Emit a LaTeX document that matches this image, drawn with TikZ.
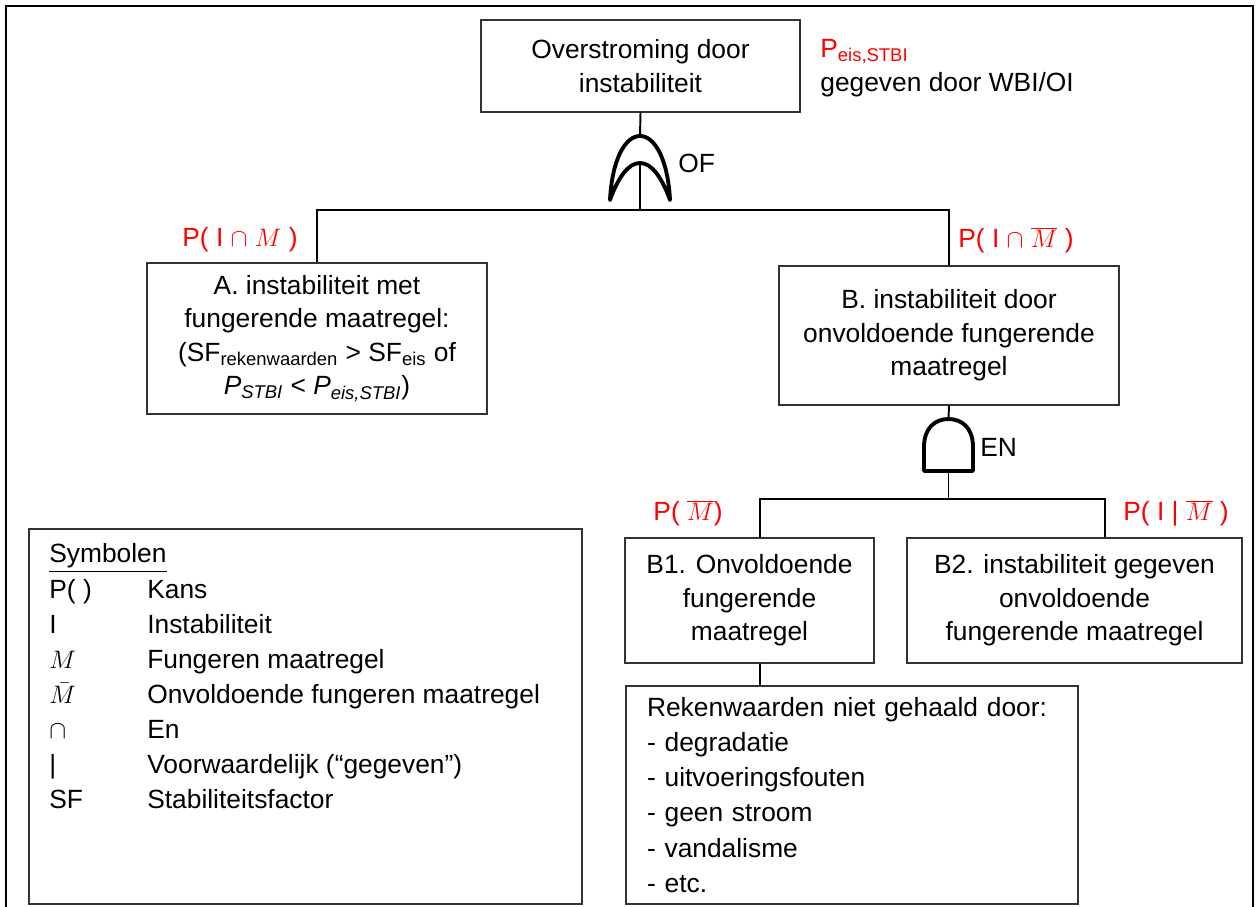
\documentclass[tikz,border=0pt]{standalone}
\usepackage{fontspec}
\setmainfont{Liberation Sans}
\tikzstyle{eventBox} = [shape=rectangle, draw=black!80, line width=0.8pt, text=black,
	align=center, fill=white, font=\fontsize{15}{19}\selectfont]
\tikzstyle{listBox} = [eventBox, align=left, font=\fontsize{15}{20}\selectfont]
\tikzstyle{plainText} = [text=black, inner sep=0pt, font=\fontsize{15}{19.5}\selectfont]
\tikzstyle{probLabel} = [plainText, text=red]
\tikzstyle{normalLine} = [line width=1.1pt, draw=black]
\tikzstyle{gateLine} = [line width=2.2pt, draw=black, line join=round]

\begin{document}
\begin{tikzpicture}[x=0.02cm, y=-0.02cm]
  \useasboundingbox (0,0) rectangle (1259,907);
  \draw [line width=1.6pt] (6,907) -- (6,6) -- (1253,6) -- (1253,907);

  \node (TOP) [eventBox, minimum width=6.38cm, minimum height=1.84cm] at (640.5,66) {Overstroming door\\instabiliteit};
  \node (PEIS) [plainText, anchor=west, align=left] at (820,68) {\textcolor{red}{P\textsubscript{eis,STBI}}\\gegeven door WBI/OI};
  \node (A) [eventBox, minimum width=6.8cm, minimum height=3.02cm] at (317,338.5) {A. instabiliteit met\\fungerende maatregel:\\(SF\textsubscript{rekenwaarden} > SF\textsubscript{eis} of\\\textit{P}\textsubscript{\textit{STBI}} < \textit{P}\textsubscript{\textit{eis,STBI}})};
  \node (B) [eventBox, minimum width=6.8cm, minimum height=2.78cm] at (949,335.5) {B. instabiliteit door\\onvoldoende fungerende\\maatregel};
  \node (B1) [eventBox, minimum width=4.98cm, minimum height=2.5cm] at (749.5,600.5) {B1. Onvoldoende\\fungerende\\maatregel};
  \node (B2) [eventBox, minimum width=6.7cm, minimum height=2.5cm] at (1074.5,600.5) {B2. instabiliteit gegeven\\onvoldoende\\fungerende maatregel};
  \node (REK) [listBox, minimum width=9.04cm, minimum height=4.36cm, text width=8.2cm] at (852,795) {Rekenwaarden niet gehaald door:\\- degradatie\\- uitvoeringsfouten\\- geen stroom\\- vandalisme\\- etc.};

  \node (pA) [probLabel] at (240,240) {P( I $\cap$ $M$ )};
  \node (pB) [probLabel, anchor=west] at (958,240) {P( I $\cap$ $\overline{M}$ )};
  \node (pB1) [probLabel] at (688,513) {P( $\overline{M}$)};
  \node (pB2) [probLabel] at (1176,513) {P( I | $\overline{M}$ )};

  % OF-poort
  \coordinate (OFtop) at (640,136);
  \coordinate (OFin) at (640,163);
  \coordinate (OFbase) at (640,210);
  \draw [gateLine] (610,200) .. controls (612,160) and (625,136) .. (OFtop) .. controls (655,136) and (668,160) .. (670,200)
    .. controls (662,178) and (652,163) .. (OFin) .. controls (628,163) and (618,178) .. (610,200) -- cycle;
  \node (OF) [plainText, anchor=west] at (678,163) {OF};

  % EN-poort
  \coordinate (ENtop) at (948.5,419);
  \coordinate (ENbot) at (948.5,471);
  \coordinate (ENbase) at (948.5,499);
  \coordinate (ENleft) at (760,499);
  \coordinate (ENright) at (1105,499);
  \draw [gateLine] (924,471) -- (924,447) .. controls (924,428) and (935,419) .. (ENtop)
    .. controls (962,419) and (973,428) .. (973,447) -- (973,471) -- cycle;
  \node (EN) [plainText, anchor=west] at (980,447) {EN};

  \draw [normalLine] (TOP.south) -- (OFtop);
  \draw [normalLine] (OFin) -- (OFbase);
  \draw [normalLine] (A.north) |- (OFbase) -| (B.north);
  \draw [normalLine] (B.south) -- (ENtop);
  \draw [normalLine] (ENbot) -- (ENbase);
  \draw [normalLine] (ENleft |- B1.north) -- (ENleft) -- (ENright) -- (ENright |- B2.north);
  \draw [normalLine] (ENleft |- B1.south) -- (ENleft |- REK.north);

  \node (LEG) [eventBox, minimum width=11.06cm, minimum height=7.5cm] at (305.5,716.5) {};
  \node (LEGTXT) [plainText, anchor=north west, font=\fontsize{15}{20}\selectfont] at (49,538) {%
    \begin{tabular}{@{}p{1.96cm}@{}l@{}}
      \underline{Symbolen} & \\
      P( ) & Kans\\
      I & Instabiliteit\\
      $M$ & Fungeren maatregel\\
      $\bar{M}$ & Onvoldoende fungeren maatregel\\
      $\cap$ & En\\
      | & Voorwaardelijk (“gegeven”)\\
      SF & Stabiliteitsfactor
    \end{tabular}};
\end{tikzpicture}
\end{document}
